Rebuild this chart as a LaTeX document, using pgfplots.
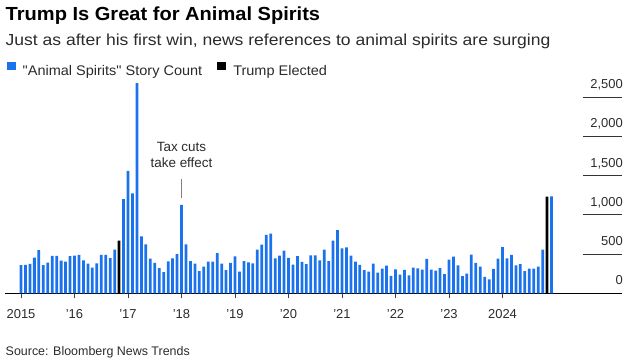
\documentclass[border=0pt]{standalone}
\usepackage{fontspec}
\setmainfont{Liberation Sans}
\newfontfamily\titlefont[FakeStretch=1.06]{Liberation Sans}
\newfontfamily\subfont[FakeStretch=1.1]{Liberation Sans}
\newfontfamily\legfont[FakeStretch=1.04]{Liberation Sans}
\usepackage{pgfplots}
\pgfplotsset{compat=1.18}
\definecolor{bbblue}{HTML}{1A72EC}
\definecolor{txtgray}{HTML}{2B2B2B}

\begin{document}
\begin{tikzpicture}
\path[use as bounding box] (0,0) rectangle (636bp,363bp);
\node[anchor=base west, inner sep=0pt, font=\titlefont\fontsize{19}{21}\selectfont\bfseries] at (5.5bp,342bp) {Trump Is Great for Animal Spirits};
\node[anchor=base west, inner sep=0pt, font=\subfont\fontsize{16}{18}\selectfont, text=txtgray] at (5.5bp,317bp) {Just as after his first win, news references to animal spirits are surging};
\node[anchor=base west, inner sep=0pt, font=\fontsize{12.5}{14}\selectfont, text=txtgray] at (5.5bp,8bp) {Source: Bloomberg News Trends};

\begin{axis}[
  at={(5bp,69.7bp)}, anchor=south west,
  scale only axis, width=617bp, height=212bp,
  xmin=-3.59, xmax=134.8, ymin=0, ymax=2700,
  axis x line*=bottom, axis y line*=right,
  y axis line style={draw=none},
  x axis line style={black, line width=0.9bp},
  xtick={0,12,...,108},
  xticklabels={2015,'16,'17,'18,'19,'20,'21,'22,'23,2024},
  tick align=outside,
  major tick length=5bp,
  x tick style={black!75, line width=0.8bp},
  ytick={0,500,...,2500},
  y tick style={draw=none},
  yticklabel pos=right,
  tick label style={font=\fontsize{13}{15}\selectfont, text=txtgray},
  xticklabel style={anchor=base, inner sep=0pt, yshift=-20bp},
  yticklabel style={anchor=base east, inner sep=0pt, yshift=8.5bp, xshift=-4bp},
  /pgf/number format/.cd, 1000 sep={,}, assume math mode=true,
  /pgfplots/.cd,
  clip=false,
  legend style={draw=none, fill=none, at={(axis description cs:0,1)}, anchor=south west,
    legend columns=2, font=\legfont\fontsize{14}{15}\selectfont, text=txtgray,
    inner xsep=0pt, inner ysep=0pt, yshift=2.5bp, xshift=1.5bp,
    /tikz/every odd column/.append style={column sep=5bp},
    /tikz/every even column/.append style={column sep=13bp}},
  legend image code/.code={\fill[#1] (0bp,0.5bp) rectangle (9bp,9bp);},
]
\addplot[ybar, bar width=0.62, bar shift=0pt, fill=bbblue, draw=none] coordinates {
(0,358) (1,362) (2,375) (3,455) (4,551) (5,358) (6,390) (7,477) (8,477) (9,415) (10,405) (11,472)
(12,480) (13,490) (14,418) (15,378) (16,326) (17,380) (18,490) (19,490) (20,448) (21,557) (23,1200)
(24,1560) (25,1272) (26,2678) (27,725) (28,623) (29,441) (30,386) (31,322) (32,271) (33,407) (34,445) (35,500)
(36,1125) (37,623) (38,411) (39,377) (40,282) (41,340) (42,402) (43,402) (44,513) (45,378) (46,296) (47,388)
(48,471) (49,275) (50,410) (51,395) (52,380) (53,555) (54,620) (55,745) (56,760) (57,445) (58,480) (59,542)
(60,450) (61,365) (62,475) (63,400) (64,370) (65,483) (66,483) (67,418) (68,555) (69,410) (70,672) (71,805)
(72,572) (73,584) (74,480) (75,402) (76,363) (77,295) (78,276) (79,377) (80,263) (81,314) (82,352) (83,222)
(84,305) (85,237) (86,297) (87,229) (88,326) (89,318) (90,301) (91,437) (92,301) (93,288) (94,322) (95,244)
(96,430) (97,466) (98,356) (99,220) (100,250) (101,492) (102,386) (103,339) (104,208) (105,178) (106,310) (107,441)
(108,589) (109,445) (110,488) (111,356) (112,373) (113,284) (114,314) (115,314) (116,339) (117,555) (119,1235)
};
\addlegendentry{"Animal Spirits" Story Count}
\addplot[ybar, bar width=0.62, bar shift=0pt, fill=black, draw=none] coordinates {
(22,670) (118,1230)
};
\addlegendentry{Trump Elected}
\pgfplotsinvokeforeach{500,1000,1500,2000,2500}{
  \draw[black!80, line width=0.9bp] (axis cs:126.1,#1) -- (axis cs:134.8,#1);
}
\draw[gray, line width=1.2bp] (axis cs:36,1218) -- (axis cs:36,1452);
\node[anchor=base, inner sep=0pt, font=\fontsize{13.5}{15}\selectfont, text=txtgray] at (axis cs:36,1804) {Tax cuts};
\node[anchor=base, inner sep=0pt, font=\fontsize{13.5}{15}\selectfont, text=txtgray] at (axis cs:36,1600) {take effect};
\end{axis}
\end{tikzpicture}
\end{document}
